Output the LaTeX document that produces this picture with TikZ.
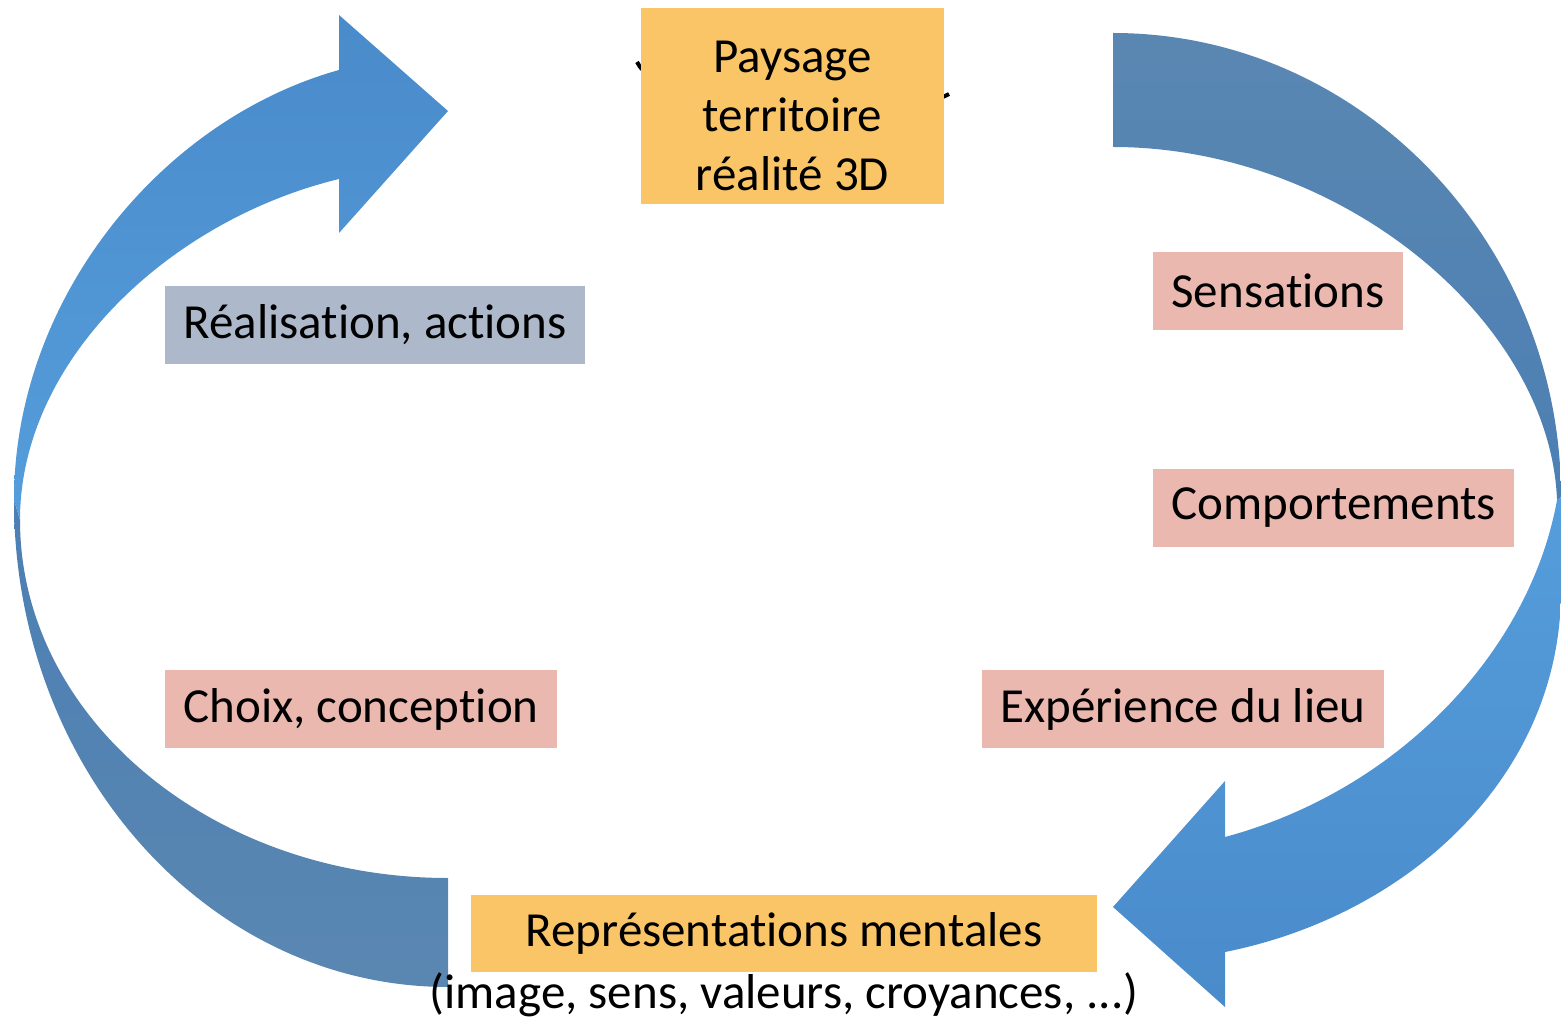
\documentclass[tikz,border=0pt]{standalone}
\usepackage{fontspec}
\setmainfont{Carlito}[Ligatures=NoCommon]
\usepackage{pgf}
\usetikzlibrary{math}

\definecolor{jaune}{HTML}{F9C567}
\definecolor{gris}{HTML}{ADB9CA}
\definecolor{rose}{HTML}{EBB8AF}
\definecolor{bleuclair}{HTML}{559DDC}
\definecolor{bleumoyen}{HTML}{4A8BCA}
\definecolor{bleufonce}{HTML}{4C7FB3}
\definecolor{bleugris}{HTML}{5A87B2}

\begin{document}
\begin{tikzpicture}[x=0.5pt,y=-0.5pt,
    etiquette/.style={inner xsep=9pt, inner ysep=0pt, minimum height=39pt, font=\fontsize{24.5}{29.5}\selectfont},
    boiteRose/.style={etiquette, fill=rose},
    boiteGrise/.style={etiquette, fill=gris},
    boiteJaune/.style={etiquette, fill=jaune, inner xsep=0pt, align=center}]
      \tikzmath{\ga = 339; \da = 1225; \gq = 448; \dq = 1113;}
      \useasboundingbox (0,0) rectangle (1561,1020);
      % fleche de gauche, partie arriere
      \path[top color=bleufonce, bottom color=bleugris] (14,500) .. controls (14,769) and (208,987) .. (\gq,987)
            -- (\gq,878) .. controls (212,878) and (20,718) .. (20,520) -- cycle;
      % fleche de gauche, partie avant
      \path[top color=bleumoyen, bottom color=bleuclair] (14,500) .. controls (14,300) and (160,120) .. (\ga,70)
            -- (\ga,15) -- (\gq,111) -- (\ga,233) -- (\ga,179)
            .. controls (170,220) and (20,360) .. (20,520) -- cycle;
      % fleche de droite, partie arriere
      \path[top color=bleugris, bottom color=bleufonce] (\dq,33) .. controls (1360,33) and (1561,242) .. (1561,497)
            -- (1557,500) .. controls (1550,320) and (1340,147) .. (\dq,147) -- cycle;
      % fleche de droite, partie avant
      \path[top color=bleuclair, bottom color=bleumoyen] (1561,497) -- (1561,590) .. controls (1561,775) and (1410,915) .. (\da,952)
            -- (\da,1007) -- (\dq,907) -- (\da,781) -- (\da,837)
            .. controls (1400,790) and (1530,650) .. (1557,500) -- cycle;
      \draw[line width=2pt] (637,62) .. controls (660,112) and (900,122) .. (949,94);
      \node[boiteJaune, minimum width=151.5pt, minimum height=98pt] (paysage) at (792.5,106) {\rule{0pt}{26pt}Paysage\\territoire\\réalité 3D};
      \node[boiteGrise, anchor=west] (realisation) at (165,325) {Réalisation, actions};
      \node[boiteRose, anchor=west] (sensations) at (1153,291) {Sensations};
      \node[boiteRose, anchor=west] (comportements) at (1153,508) {Comportements};
      \node[boiteRose, anchor=west] (choix) at (165,709) {Choix, conception};
      \node[boiteRose, anchor=west] (experience) at (982,709) {Expérience du lieu};
      \node[boiteJaune, minimum width=313pt, minimum height=38.5pt] (representations) at (784,933.5) {Représentations mentales};
      \node[etiquette, minimum height=0pt] (details) at (784,995) {(image, sens, valeurs, croyances, ...)};
\end{tikzpicture}
\end{document}
